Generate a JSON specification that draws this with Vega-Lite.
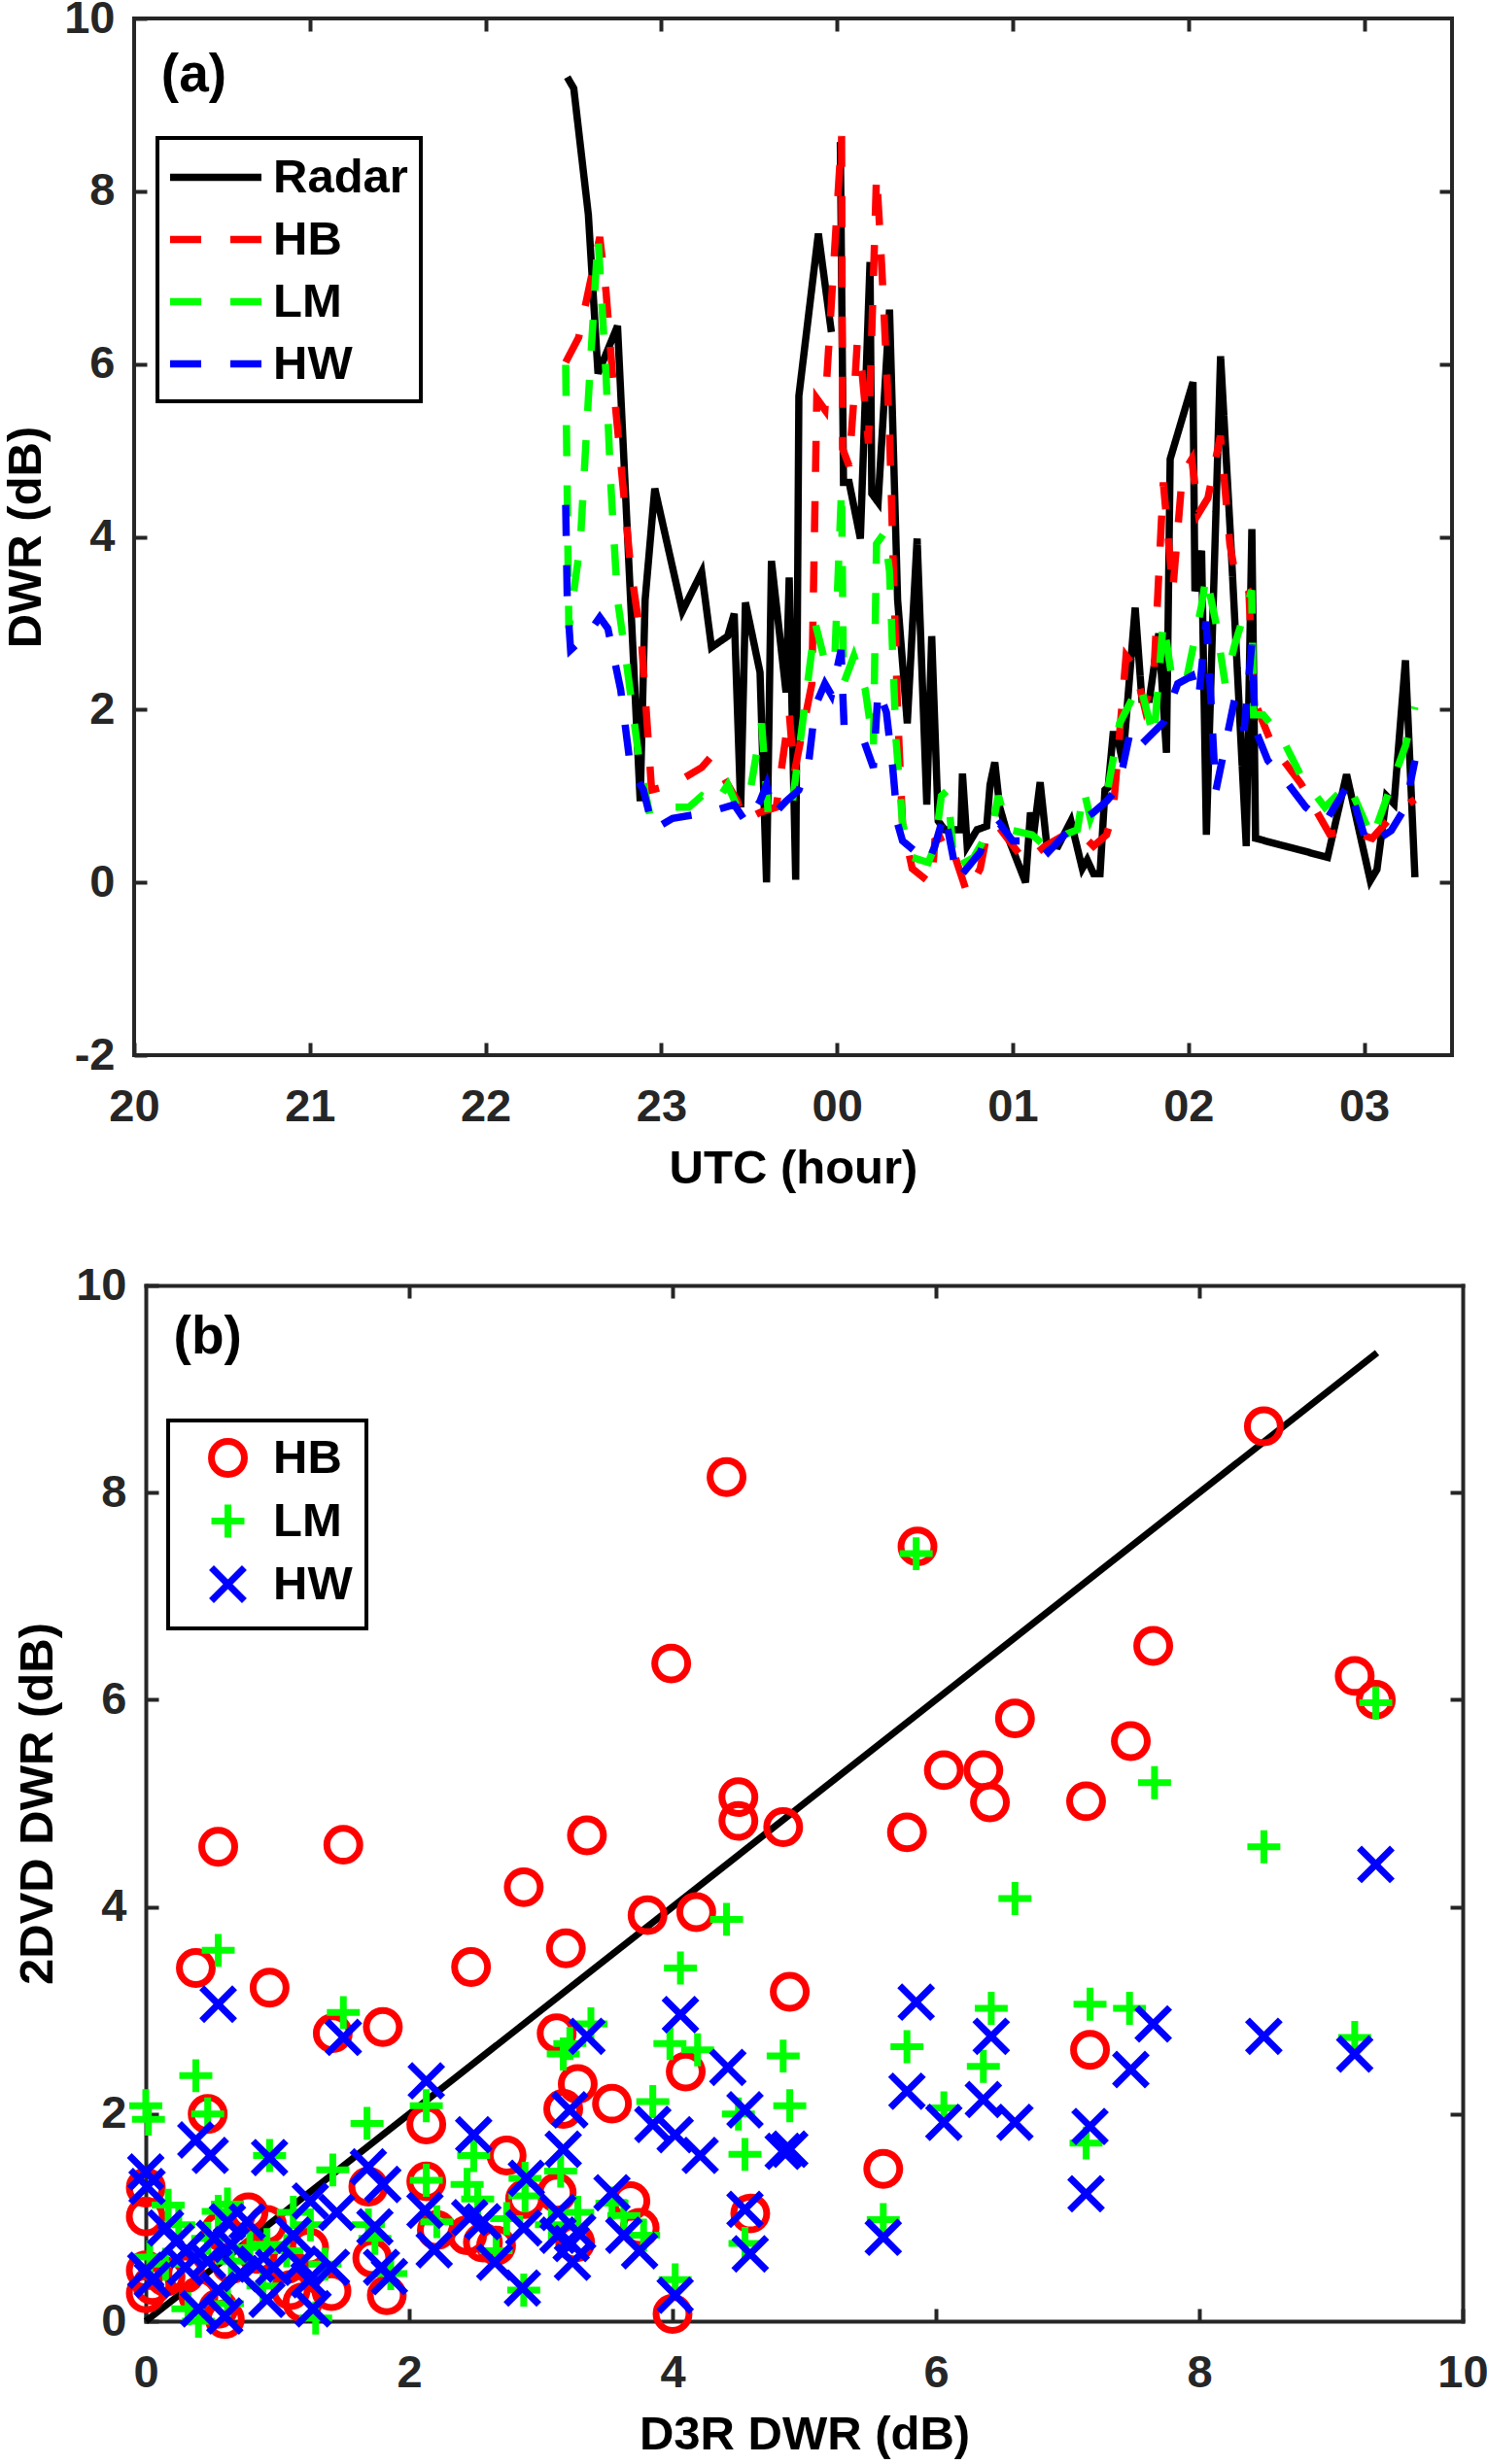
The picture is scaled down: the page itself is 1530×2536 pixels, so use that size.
{
  "$schema": "https://vega.github.io/schema/vega-lite/v6.json",
  "background": "white",
  "padding": {"left": 0, "top": -7, "right": 0, "bottom": 0},
  "spacing": 69,
  "resolve": {
    "scale": {"color": "independent", "strokeDash": "independent", "shape": "independent"},
    "legend": {"color": "independent", "strokeDash": "independent", "shape": "independent"}
  },
  "config": {
    "font": "Liberation Sans",
    "view": {"stroke": "#262626", "strokeWidth": 4},
    "axis": {
      "domain": false,
      "domainColor": "#262626",
      "domainWidth": 4,
      "domainCap": "square",
      "grid": false,
      "tickSize": -13,
      "tickWidth": 4,
      "tickColor": "#262626",
      "labelFont": "Liberation Sans",
      "labelFontSize": 47,
      "labelFontWeight": "bold",
      "labelColor": "#262626",
      "labelFlush": false,
      "labelOverlap": false,
      "labelExpr": "'' + datum.value",
      "titleFont": "Liberation Sans",
      "titleFontSize": 49,
      "titleFontWeight": "bold",
      "titleColor": "#000000"
    },
    "axisX": {"labelPadding": 43.5, "titlePadding": 16},
    "axisY": {"labelPadding": 33, "titlePadding": 14},
    "legend": {
      "labelFont": "Liberation Sans",
      "labelFontSize": 49,
      "labelFontWeight": "bold",
      "labelColor": "#000000",
      "strokeColor": "#000000",
      "strokeWidth": 4,
      "fillColor": "#ffffff",
      "padding": 14,
      "orient": "none"
    }
  },
  "vconcat": [
    {
      "width": 1356,
      "height": 1067,
      "layer": [
        {
          "data": {
            "values": [
              {"s": "Radar", "g": 1, "t": 22.465, "v": 9.32},
              {"s": "Radar", "g": 1, "t": 22.502, "v": 9.19},
              {"s": "Radar", "g": 1, "t": 22.585, "v": 7.73},
              {"s": "Radar", "g": 1, "t": 22.64, "v": 5.89},
              {"s": "Radar", "g": 1, "t": 22.751, "v": 6.44},
              {"s": "Radar", "g": 1, "t": 22.88, "v": 0.94},
              {"s": "Radar", "g": 1, "t": 22.908, "v": 3.27},
              {"s": "Radar", "g": 1, "t": 22.963, "v": 4.56},
              {"s": "Radar", "g": 1, "t": 23.12, "v": 3.14},
              {"s": "Radar", "g": 1, "t": 23.23, "v": 3.59},
              {"s": "Radar", "g": 1, "t": 23.286, "v": 2.72},
              {"s": "Radar", "g": 1, "t": 23.378, "v": 2.85},
              {"s": "Radar", "g": 1, "t": 23.415, "v": 3.11},
              {"s": "Radar", "g": 1, "t": 23.452, "v": 0.87},
              {"s": "Radar", "g": 1, "t": 23.479, "v": 3.24},
              {"s": "Radar", "g": 1, "t": 23.562, "v": 2.43},
              {"s": "Radar", "g": 1, "t": 23.599, "v": 0.0},
              {"s": "Radar", "g": 1, "t": 23.627, "v": 3.72},
              {"s": "Radar", "g": 1, "t": 23.71, "v": 2.2},
              {"s": "Radar", "g": 1, "t": 23.728, "v": 3.53},
              {"s": "Radar", "g": 1, "t": 23.765, "v": 0.03},
              {"s": "Radar", "g": 1, "t": 23.783, "v": 5.63},
              {"s": "Radar", "g": 1, "t": 23.894, "v": 7.51},
              {"s": "Radar", "g": 1, "t": 23.968, "v": 6.37},
              {"s": "Radar", "g": 2, "t": 24.019, "v": 8.57},
              {"s": "Radar", "g": 2, "t": 24.037, "v": 4.63},
              {"s": "Radar", "g": 2, "t": 24.069, "v": 4.63},
              {"s": "Radar", "g": 2, "t": 24.133, "v": 3.98},
              {"s": "Radar", "g": 2, "t": 24.188, "v": 7.18},
              {"s": "Radar", "g": 2, "t": 24.198, "v": 4.5},
              {"s": "Radar", "g": 2, "t": 24.234, "v": 4.4},
              {"s": "Radar", "g": 2, "t": 24.299, "v": 6.63},
              {"s": "Radar", "g": 2, "t": 24.345, "v": 3.27},
              {"s": "Radar", "g": 2, "t": 24.4, "v": 1.84},
              {"s": "Radar", "g": 2, "t": 24.456, "v": 3.98},
              {"s": "Radar", "g": 2, "t": 24.511, "v": 0.9},
              {"s": "Radar", "g": 2, "t": 24.539, "v": 2.85},
              {"s": "Radar", "g": 2, "t": 24.576, "v": 0.71},
              {"s": "Radar", "g": 2, "t": 24.612, "v": 0.61},
              {"s": "Radar", "g": 2, "t": 24.705, "v": 0.61},
              {"s": "Radar", "g": 2, "t": 24.714, "v": 1.26},
              {"s": "Radar", "g": 2, "t": 24.741, "v": 0.42},
              {"s": "Radar", "g": 2, "t": 24.797, "v": 0.61},
              {"s": "Radar", "g": 2, "t": 24.852, "v": 0.65},
              {"s": "Radar", "g": 2, "t": 24.871, "v": 1.13},
              {"s": "Radar", "g": 2, "t": 24.898, "v": 1.39},
              {"s": "Radar", "g": 2, "t": 24.926, "v": 0.87},
              {"s": "Radar", "g": 2, "t": 24.981, "v": 0.48},
              {"s": "Radar", "g": 2, "t": 25.073, "v": 0.0},
              {"s": "Radar", "g": 2, "t": 25.101, "v": 0.81},
              {"s": "Radar", "g": 2, "t": 25.119, "v": 0.55},
              {"s": "Radar", "g": 2, "t": 25.156, "v": 1.16},
              {"s": "Radar", "g": 2, "t": 25.193, "v": 0.45},
              {"s": "Radar", "g": 2, "t": 25.258, "v": 0.42},
              {"s": "Radar", "g": 2, "t": 25.331, "v": 0.71},
              {"s": "Radar", "g": 2, "t": 25.396, "v": 0.16},
              {"s": "Radar", "g": 2, "t": 25.424, "v": 0.26},
              {"s": "Radar", "g": 2, "t": 25.46, "v": 0.1},
              {"s": "Radar", "g": 2, "t": 25.497, "v": 0.1},
              {"s": "Radar", "g": 2, "t": 25.525, "v": 1.07},
              {"s": "Radar", "g": 2, "t": 25.543, "v": 1.1},
              {"s": "Radar", "g": 2, "t": 25.571, "v": 1.71},
              {"s": "Radar", "g": 2, "t": 25.593, "v": 1.71},
              {"s": "Radar", "g": 2, "t": 25.626, "v": 1.39},
              {"s": "Radar", "g": 2, "t": 25.697, "v": 3.18},
              {"s": "Radar", "g": 2, "t": 25.735, "v": 2.12},
              {"s": "Radar", "g": 2, "t": 25.778, "v": 2.12},
              {"s": "Radar", "g": 2, "t": 25.831, "v": 2.88},
              {"s": "Radar", "g": 2, "t": 25.875, "v": 1.5},
              {"s": "Radar", "g": 2, "t": 25.896, "v": 4.9},
              {"s": "Radar", "g": 2, "t": 26.026, "v": 5.79},
              {"s": "Radar", "g": 2, "t": 26.037, "v": 3.37},
              {"s": "Radar", "g": 2, "t": 26.075, "v": 3.84},
              {"s": "Radar", "g": 2, "t": 26.102, "v": 0.55},
              {"s": "Radar", "g": 2, "t": 26.183, "v": 6.09},
              {"s": "Radar", "g": 2, "t": 26.242, "v": 3.91},
              {"s": "Radar", "g": 2, "t": 26.329, "v": 0.42},
              {"s": "Radar", "g": 2, "t": 26.361, "v": 4.09},
              {"s": "Radar", "g": 2, "t": 26.382, "v": 0.51},
              {"s": "Radar", "g": 2, "t": 26.792, "v": 0.29},
              {"s": "Radar", "g": 2, "t": 26.9, "v": 1.25},
              {"s": "Radar", "g": 2, "t": 27.035, "v": 0.02},
              {"s": "Radar", "g": 2, "t": 27.073, "v": 0.15},
              {"s": "Radar", "g": 2, "t": 27.127, "v": 1.0},
              {"s": "Radar", "g": 2, "t": 27.17, "v": 0.91},
              {"s": "Radar", "g": 2, "t": 27.235, "v": 2.57},
              {"s": "Radar", "g": 2, "t": 27.289, "v": 0.06},

              {"s": "HB", "g": 1, "t": 22.456, "v": 6.02},
              {"s": "HB", "g": 1, "t": 22.53, "v": 6.31},
              {"s": "HB", "g": 1, "t": 22.65, "v": 7.47},
              {"s": "HB", "g": 1, "t": 22.686, "v": 6.83},
              {"s": "HB", "g": 1, "t": 22.723, "v": 5.86},
              {"s": "HB", "g": 1, "t": 22.825, "v": 3.66},
              {"s": "HB", "g": 1, "t": 22.889, "v": 2.75},
              {"s": "HB", "g": 1, "t": 22.945, "v": 1.07},
              {"s": "HB", "g": 1, "t": 23.064, "v": 1.13},
              {"s": "HB", "g": 1, "t": 23.23, "v": 1.33},
              {"s": "HB", "g": 1, "t": 23.286, "v": 1.46},
              {"s": "HB", "g": 1, "t": 23.433, "v": 0.94},
              {"s": "HB", "g": 1, "t": 23.47, "v": 0.71},
              {"s": "HB", "g": 1, "t": 23.562, "v": 0.81},
              {"s": "HB", "g": 1, "t": 23.654, "v": 0.87},
              {"s": "HB", "g": 1, "t": 23.728, "v": 1.97},
              {"s": "HB", "g": 1, "t": 23.756, "v": 1.26},
              {"s": "HB", "g": 1, "t": 23.857, "v": 2.3},
              {"s": "HB", "g": 1, "t": 23.885, "v": 5.6},
              {"s": "HB", "g": 1, "t": 23.931, "v": 5.47},
              {"s": "HB", "g": 1, "t": 24.026, "v": 8.64},
              {"s": "HB", "g": 1, "t": 24.032, "v": 5.02},
              {"s": "HB", "g": 1, "t": 24.069, "v": 4.82},
              {"s": "HB", "g": 1, "t": 24.096, "v": 5.6},
              {"s": "HB", "g": 1, "t": 24.115, "v": 6.24},
              {"s": "HB", "g": 1, "t": 24.142, "v": 5.92},
              {"s": "HB", "g": 1, "t": 24.179, "v": 5.08},
              {"s": "HB", "g": 1, "t": 24.225, "v": 8.19},
              {"s": "HB", "g": 1, "t": 24.244, "v": 7.54},
              {"s": "HB", "g": 1, "t": 24.262, "v": 6.83},
              {"s": "HB", "g": 1, "t": 24.299, "v": 5.21},
              {"s": "HB", "g": 1, "t": 24.317, "v": 3.92},
              {"s": "HB", "g": 1, "t": 24.345, "v": 1.97},
              {"s": "HB", "g": 1, "t": 24.373, "v": 0.68},
              {"s": "HB", "g": 1, "t": 24.428, "v": 0.16},
              {"s": "HB", "g": 1, "t": 24.539, "v": -0.02},
              {"s": "HB", "g": 1, "t": 24.557, "v": 0.48},
              {"s": "HB", "g": 1, "t": 24.631, "v": 0.55},
              {"s": "HB", "g": 1, "t": 24.741, "v": -0.13},
              {"s": "HB", "g": 1, "t": 24.815, "v": 0.16},
              {"s": "HB", "g": 1, "t": 24.852, "v": 0.55},
              {"s": "HB", "g": 1, "t": 24.907, "v": 0.68},
              {"s": "HB", "g": 1, "t": 25.073, "v": 0.23},
              {"s": "HB", "g": 1, "t": 25.184, "v": 0.42},
              {"s": "HB", "g": 1, "t": 25.295, "v": 0.55},
              {"s": "HB", "g": 1, "t": 25.368, "v": 0.61},
              {"s": "HB", "g": 1, "t": 25.46, "v": 0.42},
              {"s": "HB", "g": 1, "t": 25.534, "v": 0.55},
              {"s": "HB", "g": 1, "t": 25.571, "v": 0.81},
              {"s": "HB", "g": 1, "t": 25.608, "v": 1.71},
              {"s": "HB", "g": 1, "t": 25.645, "v": 2.62},
              {"s": "HB", "g": 1, "t": 25.697, "v": 2.48},
              {"s": "HB", "g": 1, "t": 25.75, "v": 2.03},
              {"s": "HB", "g": 1, "t": 25.803, "v": 2.39},
              {"s": "HB", "g": 1, "t": 25.857, "v": 4.63},
              {"s": "HB", "g": 1, "t": 25.911, "v": 3.38},
              {"s": "HB", "g": 1, "t": 25.965, "v": 4.72},
              {"s": "HB", "g": 1, "t": 26.019, "v": 4.9},
              {"s": "HB", "g": 1, "t": 26.057, "v": 4.27},
              {"s": "HB", "g": 1, "t": 26.111, "v": 4.45},
              {"s": "HB", "g": 1, "t": 26.182, "v": 5.17},
              {"s": "HB", "g": 1, "t": 26.236, "v": 3.91},
              {"s": "HB", "g": 1, "t": 26.263, "v": 3.6},
              {"s": "HB", "g": 1, "t": 26.344, "v": 3.37},
              {"s": "HB", "g": 1, "t": 26.371, "v": 2.12},
              {"s": "HB", "g": 1, "t": 26.479, "v": 1.58},
              {"s": "HB", "g": 1, "t": 26.641, "v": 1.14},
              {"s": "HB", "g": 1, "t": 26.803, "v": 0.56},
              {"s": "HB", "g": 1, "t": 26.911, "v": 0.6},
              {"s": "HB", "g": 1, "t": 27.046, "v": 0.51},
              {"s": "HB", "g": 1, "t": 27.181, "v": 0.82},
              {"s": "HB", "g": 1, "t": 27.289, "v": 0.96},

              {"s": "LM", "g": 1, "t": 22.456, "v": 5.99},
              {"s": "LM", "g": 1, "t": 22.474, "v": 2.94},
              {"s": "LM", "g": 1, "t": 22.539, "v": 3.92},
              {"s": "LM", "g": 1, "t": 22.585, "v": 5.6},
              {"s": "LM", "g": 1, "t": 22.64, "v": 7.47},
              {"s": "LM", "g": 1, "t": 22.686, "v": 5.86},
              {"s": "LM", "g": 1, "t": 22.714, "v": 4.56},
              {"s": "LM", "g": 1, "t": 22.751, "v": 3.27},
              {"s": "LM", "g": 1, "t": 22.797, "v": 2.62},
              {"s": "LM", "g": 1, "t": 22.88, "v": 1.33},
              {"s": "LM", "g": 1, "t": 22.935, "v": 0.78},
              {"s": "LM", "g": 1, "t": 23.009, "v": 0.87},
              {"s": "LM", "g": 1, "t": 23.157, "v": 0.87},
              {"s": "LM", "g": 1, "t": 23.23, "v": 1.0},
              {"s": "LM", "g": 1, "t": 23.304, "v": 0.9},
              {"s": "LM", "g": 1, "t": 23.378, "v": 1.13},
              {"s": "LM", "g": 1, "t": 23.433, "v": 0.87},
              {"s": "LM", "g": 1, "t": 23.507, "v": 1.07},
              {"s": "LM", "g": 1, "t": 23.571, "v": 1.84},
              {"s": "LM", "g": 1, "t": 23.608, "v": 0.81},
              {"s": "LM", "g": 1, "t": 23.654, "v": 0.81},
              {"s": "LM", "g": 1, "t": 23.747, "v": 0.94},
              {"s": "LM", "g": 1, "t": 23.82, "v": 2.1},
              {"s": "LM", "g": 1, "t": 23.876, "v": 3.0},
              {"s": "LM", "g": 1, "t": 23.931, "v": 2.56},
              {"s": "LM", "g": 1, "t": 23.986, "v": 2.52},
              {"s": "LM", "g": 1, "t": 24.026, "v": 4.56},
              {"s": "LM", "g": 1, "t": 24.037, "v": 2.3},
              {"s": "LM", "g": 1, "t": 24.096, "v": 2.62},
              {"s": "LM", "g": 1, "t": 24.161, "v": 2.23},
              {"s": "LM", "g": 1, "t": 24.207, "v": 1.58},
              {"s": "LM", "g": 1, "t": 24.225, "v": 3.92},
              {"s": "LM", "g": 1, "t": 24.271, "v": 4.05},
              {"s": "LM", "g": 1, "t": 24.299, "v": 3.6},
              {"s": "LM", "g": 1, "t": 24.336, "v": 1.65},
              {"s": "LM", "g": 1, "t": 24.373, "v": 0.68},
              {"s": "LM", "g": 1, "t": 24.428, "v": 0.29},
              {"s": "LM", "g": 1, "t": 24.52, "v": 0.23},
              {"s": "LM", "g": 1, "t": 24.557, "v": 0.42},
              {"s": "LM", "g": 1, "t": 24.594, "v": 1.0},
              {"s": "LM", "g": 1, "t": 24.631, "v": 1.07},
              {"s": "LM", "g": 1, "t": 24.668, "v": 0.16},
              {"s": "LM", "g": 1, "t": 24.778, "v": 0.29},
              {"s": "LM", "g": 1, "t": 24.889, "v": 0.68},
              {"s": "LM", "g": 1, "t": 24.917, "v": 1.0},
              {"s": "LM", "g": 1, "t": 24.981, "v": 0.61},
              {"s": "LM", "g": 1, "t": 25.11, "v": 0.55},
              {"s": "LM", "g": 1, "t": 25.184, "v": 0.42},
              {"s": "LM", "g": 1, "t": 25.295, "v": 0.55},
              {"s": "LM", "g": 1, "t": 25.368, "v": 0.61},
              {"s": "LM", "g": 1, "t": 25.405, "v": 1.07},
              {"s": "LM", "g": 1, "t": 25.442, "v": 0.74},
              {"s": "LM", "g": 1, "t": 25.479, "v": 0.94},
              {"s": "LM", "g": 1, "t": 25.534, "v": 1.0},
              {"s": "LM", "g": 1, "t": 25.608, "v": 1.84},
              {"s": "LM", "g": 1, "t": 25.724, "v": 2.3},
              {"s": "LM", "g": 1, "t": 25.803, "v": 1.67},
              {"s": "LM", "g": 1, "t": 25.857, "v": 3.02},
              {"s": "LM", "g": 1, "t": 25.911, "v": 2.3},
              {"s": "LM", "g": 1, "t": 25.993, "v": 2.39},
              {"s": "LM", "g": 1, "t": 26.074, "v": 3.2},
              {"s": "LM", "g": 1, "t": 26.101, "v": 3.55},
              {"s": "LM", "g": 1, "t": 26.155, "v": 3.02},
              {"s": "LM", "g": 1, "t": 26.209, "v": 2.3},
              {"s": "LM", "g": 1, "t": 26.263, "v": 2.75},
              {"s": "LM", "g": 1, "t": 26.36, "v": 3.38},
              {"s": "LM", "g": 1, "t": 26.371, "v": 1.94},
              {"s": "LM", "g": 1, "t": 26.425, "v": 1.94},
              {"s": "LM", "g": 1, "t": 26.533, "v": 1.67},
              {"s": "LM", "g": 1, "t": 26.641, "v": 1.23},
              {"s": "LM", "g": 1, "t": 26.776, "v": 0.87},
              {"s": "LM", "g": 1, "t": 26.911, "v": 1.14},
              {"s": "LM", "g": 1, "t": 27.046, "v": 0.51},
              {"s": "LM", "g": 1, "t": 27.235, "v": 1.58},
              {"s": "LM", "g": 1, "t": 27.289, "v": 2.03},

              {"s": "HW", "g": 1, "t": 22.456, "v": 4.37},
              {"s": "HW", "g": 1, "t": 22.465, "v": 3.27},
              {"s": "HW", "g": 1, "t": 22.484, "v": 2.69},
              {"s": "HW", "g": 1, "t": 22.585, "v": 2.88},
              {"s": "HW", "g": 1, "t": 22.65, "v": 3.07},
              {"s": "HW", "g": 1, "t": 22.696, "v": 2.94},
              {"s": "HW", "g": 1, "t": 22.769, "v": 2.23},
              {"s": "HW", "g": 1, "t": 22.825, "v": 1.33},
              {"s": "HW", "g": 1, "t": 22.898, "v": 1.07},
              {"s": "HW", "g": 1, "t": 22.954, "v": 0.61},
              {"s": "HW", "g": 1, "t": 23.064, "v": 0.74},
              {"s": "HW", "g": 1, "t": 23.267, "v": 0.81},
              {"s": "HW", "g": 1, "t": 23.415, "v": 0.9},
              {"s": "HW", "g": 1, "t": 23.488, "v": 0.68},
              {"s": "HW", "g": 1, "t": 23.562, "v": 0.94},
              {"s": "HW", "g": 1, "t": 23.599, "v": 1.13},
              {"s": "HW", "g": 1, "t": 23.636, "v": 0.78},
              {"s": "HW", "g": 1, "t": 23.71, "v": 0.94},
              {"s": "HW", "g": 1, "t": 23.783, "v": 1.07},
              {"s": "HW", "g": 1, "t": 23.839, "v": 1.39},
              {"s": "HW", "g": 1, "t": 23.876, "v": 2.04},
              {"s": "HW", "g": 1, "t": 23.931, "v": 2.3},
              {"s": "HW", "g": 1, "t": 23.968, "v": 2.17},
              {"s": "HW", "g": 1, "t": 24.023, "v": 2.69},
              {"s": "HW", "g": 1, "t": 24.041, "v": 1.78},
              {"s": "HW", "g": 1, "t": 24.151, "v": 1.65},
              {"s": "HW", "g": 1, "t": 24.207, "v": 1.33},
              {"s": "HW", "g": 1, "t": 24.234, "v": 2.23},
              {"s": "HW", "g": 1, "t": 24.281, "v": 1.97},
              {"s": "HW", "g": 1, "t": 24.317, "v": 1.33},
              {"s": "HW", "g": 1, "t": 24.345, "v": 0.68},
              {"s": "HW", "g": 1, "t": 24.373, "v": 0.48},
              {"s": "HW", "g": 1, "t": 24.52, "v": 0.23},
              {"s": "HW", "g": 1, "t": 24.557, "v": 0.42},
              {"s": "HW", "g": 1, "t": 24.612, "v": 0.81},
              {"s": "HW", "g": 1, "t": 24.686, "v": 0.03},
              {"s": "HW", "g": 1, "t": 24.815, "v": 0.35},
              {"s": "HW", "g": 1, "t": 24.852, "v": 0.55},
              {"s": "HW", "g": 1, "t": 24.926, "v": 0.68},
              {"s": "HW", "g": 1, "t": 25.0, "v": 0.48},
              {"s": "HW", "g": 1, "t": 25.147, "v": 0.48},
              {"s": "HW", "g": 1, "t": 25.202, "v": 0.35},
              {"s": "HW", "g": 1, "t": 25.295, "v": 0.55},
              {"s": "HW", "g": 1, "t": 25.405, "v": 0.74},
              {"s": "HW", "g": 1, "t": 25.46, "v": 0.81},
              {"s": "HW", "g": 1, "t": 25.534, "v": 0.94},
              {"s": "HW", "g": 1, "t": 25.59, "v": 1.07},
              {"s": "HW", "g": 1, "t": 25.626, "v": 1.33},
              {"s": "HW", "g": 1, "t": 25.67, "v": 1.76},
              {"s": "HW", "g": 1, "t": 25.724, "v": 1.58},
              {"s": "HW", "g": 1, "t": 25.857, "v": 1.85},
              {"s": "HW", "g": 1, "t": 25.939, "v": 2.3},
              {"s": "HW", "g": 1, "t": 26.02, "v": 2.39},
              {"s": "HW", "g": 1, "t": 26.058, "v": 2.12},
              {"s": "HW", "g": 1, "t": 26.101, "v": 3.02},
              {"s": "HW", "g": 1, "t": 26.128, "v": 2.12},
              {"s": "HW", "g": 1, "t": 26.155, "v": 1.05},
              {"s": "HW", "g": 1, "t": 26.263, "v": 2.12},
              {"s": "HW", "g": 1, "t": 26.317, "v": 1.76},
              {"s": "HW", "g": 1, "t": 26.36, "v": 2.75},
              {"s": "HW", "g": 1, "t": 26.382, "v": 1.76},
              {"s": "HW", "g": 1, "t": 26.452, "v": 1.41},
              {"s": "HW", "g": 1, "t": 26.533, "v": 1.23},
              {"s": "HW", "g": 1, "t": 26.668, "v": 0.87},
              {"s": "HW", "g": 1, "t": 26.776, "v": 0.69},
              {"s": "HW", "g": 1, "t": 26.911, "v": 1.14},
              {"s": "HW", "g": 1, "t": 27.019, "v": 0.42},
              {"s": "HW", "g": 1, "t": 27.154, "v": 0.6},
              {"s": "HW", "g": 1, "t": 27.235, "v": 0.87},
              {"s": "HW", "g": 1, "t": 27.289, "v": 1.41}
            ]
          },
          "mark": {"type": "line", "strokeWidth": 7.5, "strokeJoin": "miter", "strokeCap": "butt"},
          "encoding": {
            "x": {
              "field": "t",
              "type": "quantitative",
              "scale": {"domain": [20, 27.5], "nice": false, "zero": false},
              "axis": {
                "orient": "bottom",
                "title": "UTC (hour)",
                "values": [20, 21, 22, 23, 24, 25, 26, 27],
                "labelExpr": "datum.value >= 24 ? '0' + (datum.value - 24) : '' + datum.value"
              }
            },
            "y": {
              "field": "v",
              "type": "quantitative",
              "scale": {"domain": [-2, 10], "nice": false, "zero": false},
              "axis": {"orient": "left", "title": "DWR (dB)", "values": [-2, 0, 2, 4, 6, 8, 10]}
            },
            "color": {
              "field": "s",
              "type": "nominal",
              "scale": {"domain": ["Radar", "HB", "LM", "HW"], "range": ["#000000", "#ff0000", "#00ff00", "#0000ff"]},
              "legend": {"title": null, "orient": "none", "legendX": 24, "legendY": 123, "padding": 13, "symbolType": "M-2,0L2,0", "symbolSize": 2209, "symbolStrokeWidth": 7.5, "symbolOffset": 19.5, "labelOffset": 31.5, "rowPadding": 11}
            },
            "strokeDash": {
              "field": "s",
              "type": "nominal",
              "scale": {"domain": ["Radar", "HB", "LM", "HW"], "range": [[1, 0], [32, 30], [32, 30], [32, 30]]},
              "legend": {"title": null, "orient": "none", "legendX": 24, "legendY": 123, "padding": 13, "symbolType": "M-2,0L2,0", "symbolSize": 2209, "symbolStrokeWidth": 7.5, "symbolOffset": 19.5, "labelOffset": 31.5, "rowPadding": 11}
            },
            "detail": {"field": "g", "type": "nominal"}
          }
        },
        {
          "data": {"values": [{"t": 20.34, "v": 9.35, "label": "(a)"}]},
          "mark": {"type": "text", "fontSize": 55, "fontWeight": "bold", "color": "#000000", "align": "center", "baseline": "middle"},
          "encoding": {
            "x": {
              "field": "t",
              "type": "quantitative",
              "scale": {"domain": [20, 27.5], "nice": false, "zero": false},
              "axis": {"orient": "top", "labels": false, "title": null, "values": [21, 22, 23, 24, 25, 26, 27]}
            },
            "y": {
              "field": "v",
              "type": "quantitative",
              "scale": {"domain": [-2, 10], "nice": false, "zero": false},
              "axis": {"orient": "right", "labels": false, "title": null, "values": [0, 2, 4, 6, 8]}
            },
            "text": {"field": "label"}
          }
        }
      ],
      "resolve": {"axis": {"x": "independent", "y": "independent"}}
    },
    {
      "width": 1367,
      "height": 1066,
      "view": {"stroke": null},
      "layer": [
        {
          "data": {"values": [{"x": 0, "y": 0}, {"x": 9.35, "y": 9.35}]},
          "mark": {"type": "line", "color": "#000000", "strokeWidth": 7},
          "encoding": {
            "x": {
              "field": "x",
              "type": "quantitative",
              "scale": {"domain": [0, 10], "nice": false, "range": [12, 1367]},
              "axis": {"orient": "bottom", "domain": true, "title": "D3R DWR (dB)", "values": [0, 2, 4, 6, 8, 10]}
            },
            "y": {
              "field": "y",
              "type": "quantitative",
              "scale": {"domain": [0, 10], "nice": false},
              "axis": {"orient": "left", "domain": true, "offset": -12, "title": "2DVD DWR (dB)", "values": [0, 2, 4, 6, 8, 10]}
            }
          }
        },
        {
          "data": {
            "values": [
              {"s": "HB", "x": 8.49, "y": 8.64}, {"s": "HB", "x": 4.41, "y": 8.15}, {"s": "HB", "x": 5.86, "y": 7.48},
              {"s": "HB", "x": 3.99, "y": 6.35}, {"s": "HB", "x": 7.65, "y": 6.52}, {"s": "HB", "x": 9.18, "y": 6.23},
              {"s": "HB", "x": 9.34, "y": 6.0}, {"s": "HB", "x": 6.6, "y": 5.82}, {"s": "HB", "x": 7.48, "y": 5.6},
              {"s": "HB", "x": 6.06, "y": 5.32}, {"s": "HB", "x": 6.36, "y": 5.32}, {"s": "HB", "x": 6.41, "y": 5.01},
              {"s": "HB", "x": 7.14, "y": 5.02}, {"s": "HB", "x": 4.5, "y": 5.06}, {"s": "HB", "x": 4.5, "y": 4.83},
              {"s": "HB", "x": 4.84, "y": 4.77}, {"s": "HB", "x": 5.78, "y": 4.72}, {"s": "HB", "x": 3.35, "y": 4.69},
              {"s": "HB", "x": 0.55, "y": 4.58}, {"s": "HB", "x": 1.5, "y": 4.6}, {"s": "HB", "x": 2.87, "y": 4.19},
              {"s": "HB", "x": 3.81, "y": 3.92}, {"s": "HB", "x": 4.18, "y": 3.95}, {"s": "HB", "x": 3.19, "y": 3.6},
              {"s": "HB", "x": 0.38, "y": 3.41}, {"s": "HB", "x": 2.47, "y": 3.42}, {"s": "HB", "x": 0.94, "y": 3.22},
              {"s": "HB", "x": 4.89, "y": 3.18}, {"s": "HB", "x": 1.42, "y": 2.78}, {"s": "HB", "x": 1.8, "y": 2.84},
              {"s": "HB", "x": 3.12, "y": 2.78}, {"s": "HB", "x": 7.17, "y": 2.62}, {"s": "HB", "x": 4.1, "y": 2.41},
              {"s": "HB", "x": 3.28, "y": 2.29}, {"s": "HB", "x": 3.54, "y": 2.1}, {"s": "HB", "x": 0.47, "y": 2.0},
              {"s": "HB", "x": 2.13, "y": 1.9}, {"s": "HB", "x": 3.17, "y": 2.05}, {"s": "HB", "x": 2.74, "y": 1.6},
              {"s": "HB", "x": 5.6, "y": 1.47}, {"s": "HB", "x": 1.69, "y": 1.3}, {"s": "HB", "x": 2.13, "y": 1.35},
              {"s": "HB", "x": 3.12, "y": 1.24}, {"s": "HB", "x": 2.88, "y": 1.18}, {"s": "HB", "x": 3.68, "y": 1.16},
              {"s": "HB", "x": 4.59, "y": 1.04}, {"s": "HB", "x": 3.75, "y": 0.9}, {"s": "HB", "x": 2.21, "y": 0.88},
              {"s": "HB", "x": 2.44, "y": 0.83}, {"s": "HB", "x": 2.56, "y": 0.76}, {"s": "HB", "x": 2.66, "y": 0.73},
              {"s": "HB", "x": 3.26, "y": 0.76}, {"s": "HB", "x": 1.72, "y": 0.61}, {"s": "HB", "x": 1.83, "y": 0.25},
              {"s": "HB", "x": 1.41, "y": 0.29}, {"s": "HB", "x": 4.0, "y": 0.07}, {"s": "HB", "x": 0.6, "y": 0.02},
              {"s": "HB", "x": 0.0, "y": 1.29}, {"s": "HB", "x": 0.0, "y": 1.01}, {"s": "HB", "x": 0.0, "y": 0.49},
              {"s": "HB", "x": 0.0, "y": 0.27}, {"s": "HB", "x": 0.78, "y": 1.05}, {"s": "HB", "x": 0.92, "y": 0.93},
              {"s": "HB", "x": 0.57, "y": 0.87}, {"s": "HB", "x": 1.19, "y": 0.18}, {"s": "HB", "x": 1.24, "y": 0.71},
              {"s": "HB", "x": 0.4, "y": 0.24}, {"s": "HB", "x": 0.3, "y": 0.46}, {"s": "HB", "x": 0.15, "y": 0.43},
              {"s": "HB", "x": 1.07, "y": 0.55}, {"s": "HB", "x": 0.55, "y": 0.12}, {"s": "HB", "x": 0.65, "y": 0.55},
              {"s": "HB", "x": 0.05, "y": 0.35}, {"s": "HB", "x": 1.1, "y": 0.3}, {"s": "HB", "x": 0.85, "y": 0.65},

              {"s": "LM", "x": 5.85, "y": 7.41}, {"s": "LM", "x": 9.34, "y": 5.97}, {"s": "LM", "x": 7.66, "y": 5.2},
              {"s": "LM", "x": 8.49, "y": 4.58}, {"s": "LM", "x": 6.6, "y": 4.08}, {"s": "LM", "x": 4.41, "y": 3.88},
              {"s": "LM", "x": 4.06, "y": 3.41}, {"s": "LM", "x": 0.55, "y": 3.58}, {"s": "LM", "x": 1.5, "y": 2.98},
              {"s": "LM", "x": 6.42, "y": 3.02}, {"s": "LM", "x": 7.17, "y": 3.06}, {"s": "LM", "x": 7.47, "y": 3.02},
              {"s": "LM", "x": 5.78, "y": 2.65}, {"s": "LM", "x": 6.36, "y": 2.46}, {"s": "LM", "x": 9.18, "y": 2.74},
              {"s": "LM", "x": 4.84, "y": 2.56}, {"s": "LM", "x": 4.19, "y": 2.62}, {"s": "LM", "x": 3.98, "y": 2.68},
              {"s": "LM", "x": 4.89, "y": 2.08}, {"s": "LM", "x": 6.06, "y": 2.06}, {"s": "LM", "x": 4.5, "y": 2.0},
              {"s": "LM", "x": 0.38, "y": 2.37}, {"s": "LM", "x": 0.0, "y": 2.08}, {"s": "LM", "x": 0.02, "y": 1.95},
              {"s": "LM", "x": 0.47, "y": 2.0}, {"s": "LM", "x": 0.94, "y": 1.6}, {"s": "LM", "x": 1.68, "y": 1.91},
              {"s": "LM", "x": 7.14, "y": 1.72}, {"s": "LM", "x": 5.6, "y": 0.98}, {"s": "LM", "x": 4.55, "y": 0.75},
              {"s": "LM", "x": 3.15, "y": 1.45}, {"s": "LM", "x": 1.42, "y": 1.46}, {"s": "LM", "x": 0.55, "y": 1.06},
              {"s": "LM", "x": 0.17, "y": 1.12}, {"s": "LM", "x": 3.38, "y": 2.87}, {"s": "LM", "x": 3.17, "y": 2.58},
              {"s": "LM", "x": 3.22, "y": 2.68}, {"s": "LM", "x": 3.85, "y": 2.12}, {"s": "LM", "x": 4.55, "y": 1.61},
              {"s": "LM", "x": 2.13, "y": 2.08}, {"s": "LM", "x": 2.49, "y": 1.6}, {"s": "LM", "x": 2.13, "y": 1.36},
              {"s": "LM", "x": 2.44, "y": 1.32}, {"s": "LM", "x": 2.52, "y": 1.18}, {"s": "LM", "x": 2.88, "y": 1.38},
              {"s": "LM", "x": 2.88, "y": 1.21}, {"s": "LM", "x": 3.28, "y": 1.05}, {"s": "LM", "x": 3.54, "y": 1.14},
              {"s": "LM", "x": 3.63, "y": 1.02}, {"s": "LM", "x": 2.21, "y": 0.96}, {"s": "LM", "x": 2.66, "y": 0.68},
              {"s": "LM", "x": 2.74, "y": 0.99}, {"s": "LM", "x": 3.08, "y": 0.93}, {"s": "LM", "x": 3.78, "y": 0.83},
              {"s": "LM", "x": 2.87, "y": 0.3}, {"s": "LM", "x": 4.02, "y": 0.4}, {"s": "LM", "x": 1.86, "y": 0.46},
              {"s": "LM", "x": 0.62, "y": 1.13}, {"s": "LM", "x": 1.12, "y": 1.05}, {"s": "LM", "x": 1.25, "y": 0.93},
              {"s": "LM", "x": 1.69, "y": 0.93}, {"s": "LM", "x": 1.74, "y": 0.8}, {"s": "LM", "x": 0.25, "y": 0.93},
              {"s": "LM", "x": 0.03, "y": 0.62}, {"s": "LM", "x": 0.15, "y": 0.55}, {"s": "LM", "x": 0.47, "y": 0.8},
              {"s": "LM", "x": 0.79, "y": 0.71}, {"s": "LM", "x": 0.92, "y": 0.74}, {"s": "LM", "x": 1.07, "y": 0.68},
              {"s": "LM", "x": 0.65, "y": 0.58}, {"s": "LM", "x": 0.32, "y": 0.12}, {"s": "LM", "x": 0.4, "y": 0.0},
              {"s": "LM", "x": 0.62, "y": 0.17}, {"s": "LM", "x": 0.89, "y": 0.34}, {"s": "LM", "x": 1.29, "y": 0.03},
              {"s": "LM", "x": 1.36, "y": 0.55},

              {"s": "HW", "x": 9.34, "y": 4.41}, {"s": "HW", "x": 0.55, "y": 3.06}, {"s": "HW", "x": 5.85, "y": 3.08},
              {"s": "HW", "x": 6.42, "y": 2.75}, {"s": "HW", "x": 7.65, "y": 2.87}, {"s": "HW", "x": 8.49, "y": 2.75},
              {"s": "HW", "x": 9.18, "y": 2.58}, {"s": "HW", "x": 7.48, "y": 2.43}, {"s": "HW", "x": 5.78, "y": 2.22},
              {"s": "HW", "x": 6.36, "y": 2.14}, {"s": "HW", "x": 6.06, "y": 1.92}, {"s": "HW", "x": 6.6, "y": 1.92},
              {"s": "HW", "x": 4.84, "y": 1.64}, {"s": "HW", "x": 4.89, "y": 1.66}, {"s": "HW", "x": 7.17, "y": 1.88},
              {"s": "HW", "x": 7.14, "y": 1.23}, {"s": "HW", "x": 5.6, "y": 0.81}, {"s": "HW", "x": 1.5, "y": 2.74},
              {"s": "HW", "x": 0.38, "y": 1.75}, {"s": "HW", "x": 0.49, "y": 1.6}, {"s": "HW", "x": 0.94, "y": 1.58},
              {"s": "HW", "x": 4.42, "y": 2.45}, {"s": "HW", "x": 4.06, "y": 2.96}, {"s": "HW", "x": 3.35, "y": 2.75},
              {"s": "HW", "x": 2.13, "y": 2.32}, {"s": "HW", "x": 4.55, "y": 2.04}, {"s": "HW", "x": 2.49, "y": 1.8},
              {"s": "HW", "x": 3.22, "y": 2.04}, {"s": "HW", "x": 3.17, "y": 1.66}, {"s": "HW", "x": 3.85, "y": 1.9},
              {"s": "HW", "x": 4.02, "y": 1.8}, {"s": "HW", "x": 4.21, "y": 1.6}, {"s": "HW", "x": 2.89, "y": 1.38},
              {"s": "HW", "x": 1.8, "y": 1.32}, {"s": "HW", "x": 2.12, "y": 1.07}, {"s": "HW", "x": 2.19, "y": 0.69},
              {"s": "HW", "x": 2.46, "y": 1.0}, {"s": "HW", "x": 2.56, "y": 0.96}, {"s": "HW", "x": 2.87, "y": 0.9},
              {"s": "HW", "x": 3.13, "y": 1.05}, {"s": "HW", "x": 3.13, "y": 0.83}, {"s": "HW", "x": 3.23, "y": 0.75},
              {"s": "HW", "x": 3.28, "y": 0.86}, {"s": "HW", "x": 3.24, "y": 0.57}, {"s": "HW", "x": 2.65, "y": 0.57},
              {"s": "HW", "x": 2.86, "y": 0.32}, {"s": "HW", "x": 3.54, "y": 1.24}, {"s": "HW", "x": 3.63, "y": 0.83},
              {"s": "HW", "x": 3.75, "y": 0.68}, {"s": "HW", "x": 4.55, "y": 1.08}, {"s": "HW", "x": 4.59, "y": 0.65},
              {"s": "HW", "x": 4.02, "y": 0.25}, {"s": "HW", "x": 1.85, "y": 0.43}, {"s": "HW", "x": 0.0, "y": 1.44},
              {"s": "HW", "x": 0.01, "y": 1.3}, {"s": "HW", "x": 1.25, "y": 1.16}, {"s": "HW", "x": 1.45, "y": 1.05},
              {"s": "HW", "x": 1.69, "y": 1.49}, {"s": "HW", "x": 1.74, "y": 0.91}, {"s": "HW", "x": 0.15, "y": 0.9},
              {"s": "HW", "x": 0.23, "y": 0.77}, {"s": "HW", "x": 0.31, "y": 0.69}, {"s": "HW", "x": 0.62, "y": 0.96},
              {"s": "HW", "x": 0.77, "y": 0.96}, {"s": "HW", "x": 0.52, "y": 0.8}, {"s": "HW", "x": 0.65, "y": 0.74},
              {"s": "HW", "x": 0.47, "y": 0.58}, {"s": "HW", "x": 0.84, "y": 0.55}, {"s": "HW", "x": 0.97, "y": 0.52},
              {"s": "HW", "x": 1.12, "y": 0.83}, {"s": "HW", "x": 1.17, "y": 0.55}, {"s": "HW", "x": 1.24, "y": 0.4},
              {"s": "HW", "x": 1.41, "y": 0.52}, {"s": "HW", "x": 0.0, "y": 0.49}, {"s": "HW", "x": 0.05, "y": 0.4},
              {"s": "HW", "x": 0.3, "y": 0.52}, {"s": "HW", "x": 0.4, "y": 0.12}, {"s": "HW", "x": 0.6, "y": 0.05},
              {"s": "HW", "x": 0.55, "y": 0.3}, {"s": "HW", "x": 0.72, "y": 0.46}, {"s": "HW", "x": 0.92, "y": 0.21},
              {"s": "HW", "x": 1.27, "y": 0.12}, {"s": "HW", "x": 1.79, "y": 0.52}
            ]
          },
          "mark": {"type": "point", "filled": false, "opacity": 1, "size": 1150, "strokeWidth": 7},
          "encoding": {
            "x": {
              "field": "x",
              "type": "quantitative",
              "scale": {"domain": [0, 10], "nice": false, "range": [12, 1367]},
              "axis": {"orient": "top", "domain": true, "labels": false, "title": null, "values": [2, 4, 6, 8]}
            },
            "y": {
              "field": "y",
              "type": "quantitative",
              "scale": {"domain": [0, 10], "nice": false},
              "axis": {"orient": "right", "domain": true, "labels": false, "title": null, "values": [2, 4, 6, 8]}
            },
            "color": {
              "field": "s",
              "type": "nominal",
              "scale": {"domain": ["HB", "LM", "HW"], "range": ["#ff0000", "#00ff00", "#0000ff"]},
              "legend": {"title": null, "orient": "none", "legendX": 35, "legendY": 139, "symbolSize": 1150, "symbolStrokeWidth": 7, "symbolOffset": 23, "labelOffset": 22, "rowPadding": 2}
            },
            "shape": {
              "field": "s",
              "type": "nominal",
              "scale": {"domain": ["HB", "LM", "HW"], "range": ["circle", "M-1,0L1,0M0,-1L0,1", "M-1,-1L1,1M-1,1L1,-1"]},
              "legend": {"title": null, "orient": "none", "legendX": 35, "legendY": 139, "symbolSize": 1150, "symbolStrokeWidth": 7, "symbolOffset": 23, "labelOffset": 22, "rowPadding": 2}
            }
          }
        },
        {
          "data": {"values": [{"x": 0.47, "y": 9.5, "label": "(b)"}]},
          "mark": {"type": "text", "fontSize": 55, "fontWeight": "bold", "color": "#000000", "align": "center", "baseline": "middle"},
          "encoding": {
            "x": {"field": "x", "type": "quantitative", "axis": null},
            "y": {"field": "y", "type": "quantitative", "axis": null},
            "text": {"field": "label"}
          }
        }
      ],
      "resolve": {"axis": {"x": "independent", "y": "independent"}}
    }
  ]
}
